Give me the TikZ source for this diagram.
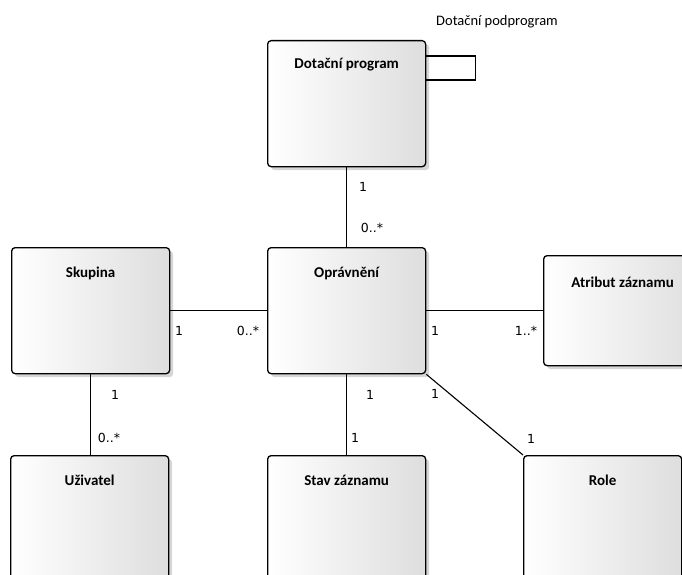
\documentclass[tikz,border=0pt]{standalone}
\usepackage{fontspec}
\setmainfont{Carlito}
\newfontfamily\multfont{DejaVu Sans}
\usetikzlibrary{shadows}

\tikzset{
  classbox/.style={
    draw=black, line width=1.3pt, rounded corners=3.5pt,
    left color=white, middle color=black!2, right color=black!13,
    minimum width=158pt, minimum height=126pt, inner sep=0pt,
    anchor=north west,
    drop shadow={shadow xshift=3.5pt, shadow yshift=-3.5pt, fill=black!16, opacity=1}
  },
  smallbox/.style={classbox, minimum height=110pt},
  classtitle/.style={font=\bfseries\fontsize{15}{17}\selectfont, inner sep=0pt},
  plain/.style={font=\fontsize{14.5}{17}\selectfont, inner sep=0pt},
  mult/.style={font=\multfont\fontsize{12.5}{14}\selectfont, inner sep=0pt},
  assoc/.style={draw=black, line width=1.1pt}
}

\begin{document}
\begin{tikzpicture}[x=1pt, y=-1pt]
  \useasboundingbox (0,0) rectangle (682,575);
  \clip (0,0) rectangle (682,575);

  % classes
  \node[classbox] (prog) at (267,40) {};
  \node[classbox] (skup) at (11,247) {};
  \node[classbox] (opr)  at (267,247) {};
  \node[smallbox] (attr) at (543,255) {};
  \node[classbox] (uziv) at (10,455) {};
  \node[classbox] (stav) at (267,455) {};
  \node[classbox] (role) at (523,455) {};

  % class names
  \node[classtitle] at ([yshift=-25pt]prog.north) {Dotační program};
  \node[classtitle] at ([yshift=-26pt]skup.north) {Skupina};
  \node[classtitle] at ([yshift=-26pt]opr.north)  {Oprávnění};
  \node[classtitle] at ([yshift=-27pt]attr.north) {Atribut záznamu};
  \node[classtitle] at ([yshift=-25pt]uziv.north) {Uživatel};
  \node[classtitle] at ([yshift=-25pt]stav.north) {Stav záznamu};
  \node[classtitle] at ([yshift=-25pt]role.north) {Role};

  % self association of the programme
  \draw[assoc] ([yshift=-16pt]prog.north east) -- ++(49,0) -- ++(0,24) -- ++(-49,0);
  \node[plain] (selfname) at (497,22) {Dotační podprogram};

  % associations
  \draw[assoc] (prog.south) -- (opr.north);
  \draw[assoc] (skup.east) -- (opr.west);
  \draw[assoc] (opr.east) -- (attr.west);
  \draw[assoc] (skup.south) -- (skup.south |- uziv.north);
  \draw[assoc] (opr.south) -- (stav.north);
  \draw[assoc] (opr.south east) -- (role.north west);

  % multiplicities
  \node[mult] at (363,187) {1};
  \node[mult] at (372,228) {0..*};
  \node[mult] at (179,331) {1};
  \node[mult] at (248,331) {0..*};
  \node[mult] at (435,331) {1};
  \node[mult] at (526,331) {1..*};
  \node[mult] at (115,395) {1};
  \node[mult] at (109,438) {0..*};
  \node[mult] at (370,395) {1};
  \node[mult] at (355,438) {1};
  \node[mult] at (435,394) {1};
  \node[mult] at (531,439) {1};
\end{tikzpicture}
\end{document}
